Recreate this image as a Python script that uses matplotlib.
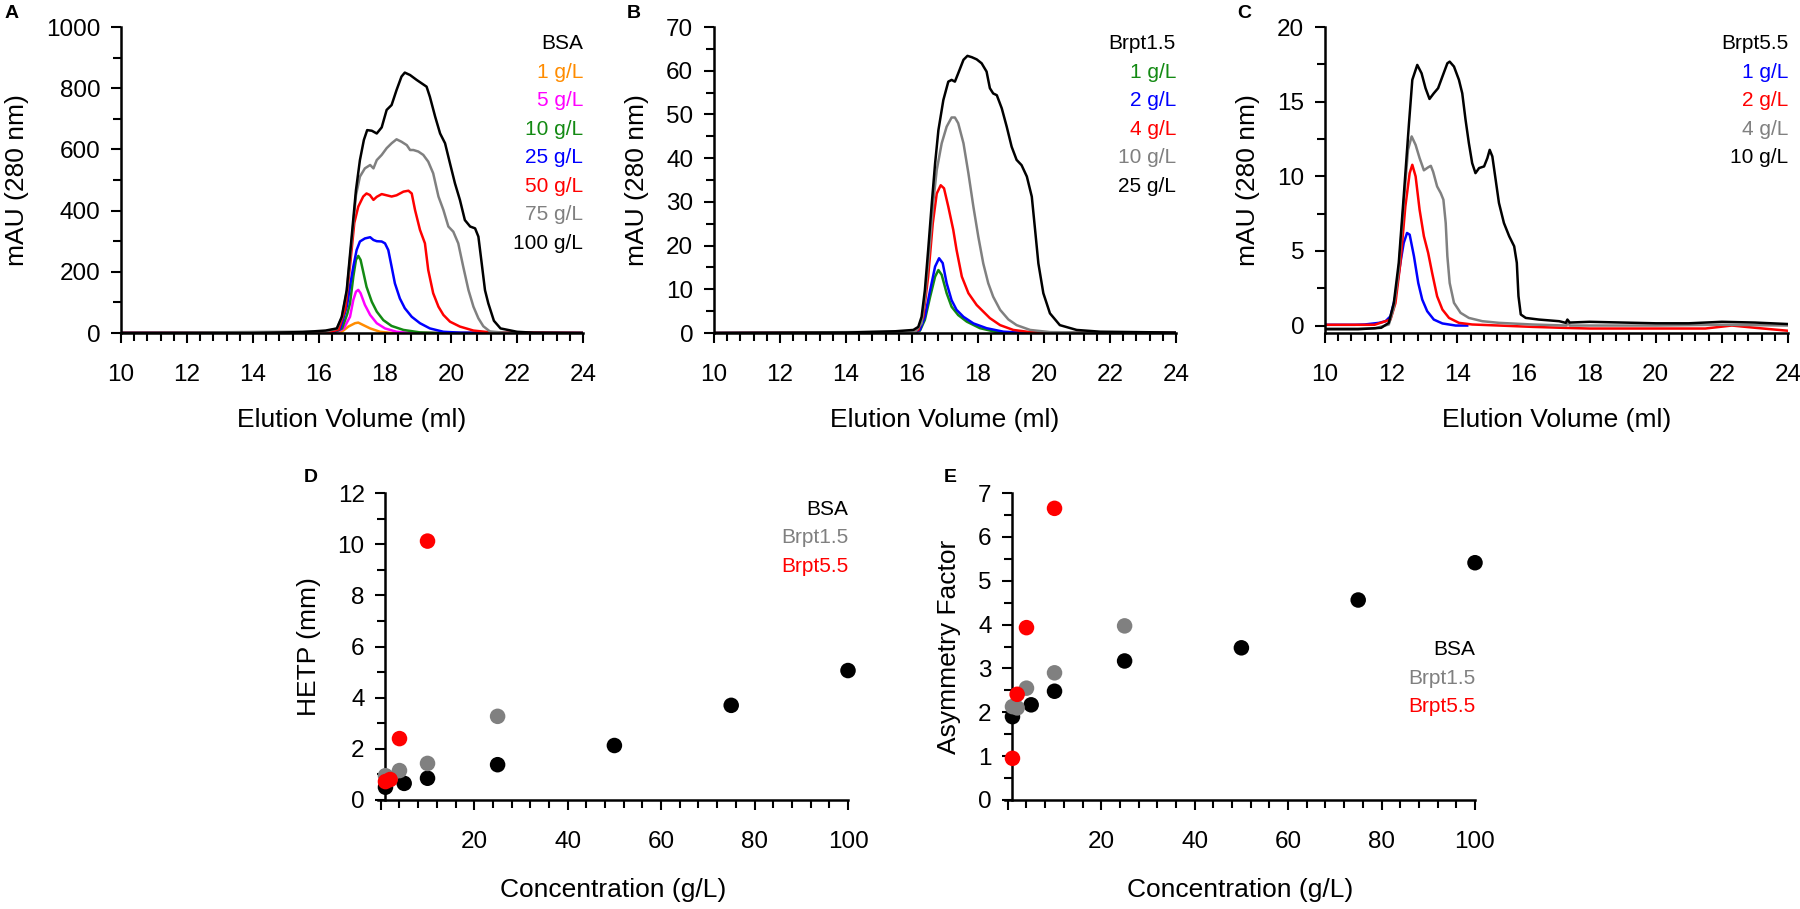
import matplotlib
matplotlib.use("Agg")
import matplotlib.pyplot as plt
from matplotlib.ticker import MultipleLocator, FuncFormatter

plt.rcParams['font.family'] = ['Liberation Sans', 'DejaVu Sans']
NARROW = ['Liberation Sans Narrow', 'Liberation Sans']

# ---------- panel A: BSA chromatograms ----------
a_labels = ['1 g/L', '5 g/L', '10 g/L', '25 g/L', '50 g/L', '75 g/L', '100 g/L']
a_orange_x = [10, 16.5, 16.69, 16.89, 17.09, 17.19, 17.34, 17.55, 17.85, 18.2, 24]
a_orange_y = [0, 1, 4, 21, 32, 34, 26, 15, 4, 0, 0]
a_mag_x = [10, 16.5, 16.75, 16.94, 17.04, 17.12, 17.19, 17.26, 17.39, 17.55, 17.75, 18.0, 18.35, 18.8, 24]
a_mag_y = [0, 1, 15, 53, 108, 135, 141, 130, 92, 59, 32, 15, 4, 0, 0]
a_green_x = [10, 16.45, 16.7, 16.85, 16.94, 17.04, 17.12, 17.19, 17.26, 17.34, 17.44, 17.6, 17.75, 17.95, 18.2, 18.56, 19.06, 19.6, 24]
a_green_y = [0, 1, 15, 60, 97, 184, 239, 252, 239, 200, 151, 102, 70, 42, 23, 10, 2, 0, 0]
a_blue_x = [10, 16.4, 16.65, 16.85, 16.95, 17.04, 17.14, 17.24, 17.39, 17.55, 17.65, 17.75, 17.9, 18.0, 18.1, 18.2, 18.3, 18.45, 18.6, 18.81, 19.06, 19.36, 19.77, 20.3, 24]
a_blue_y = [0, 2, 15, 90, 160, 217, 271, 299, 309, 313, 304, 300, 299, 293, 271, 217, 162, 113, 81, 53, 32, 15, 4, 1, 0]
a_red_x = [10, 16.3, 16.6, 16.8, 16.95, 17.07, 17.19, 17.34, 17.44, 17.54, 17.65, 17.75, 17.9, 18.05, 18.2, 18.35, 18.56, 18.71, 18.81, 18.91, 19.06, 19.21, 19.31, 19.46, 19.62, 19.77, 19.97, 20.27, 20.68, 21.2, 24]
a_red_y = [0, 2, 12, 80, 230, 360, 413, 446, 456, 451, 435, 445, 454, 450, 446, 450, 462, 465, 456, 402, 337, 293, 206, 130, 86, 59, 37, 21, 8, 2, 0]
a_gray_x = [10, 16.2, 16.54, 16.69, 16.84, 16.99, 17.12, 17.24, 17.39, 17.55, 17.65, 17.75, 17.9, 18.05, 18.2, 18.35, 18.5, 18.66, 18.76, 18.86, 19.01, 19.16, 19.31, 19.46, 19.62, 19.77, 19.92, 20.07, 20.22, 20.37, 20.53, 20.68, 20.83, 20.98, 21.18, 21.5, 22, 24]
a_gray_y = [0, 5, 14, 50, 135, 300, 450, 511, 538, 549, 538, 565, 582, 604, 620, 633, 625, 614, 598, 598, 593, 582, 560, 522, 446, 402, 348, 331, 293, 217, 140, 86, 48, 22, 5, 2, 0, 0]
a_black_x = [10, 14, 15.5, 16.2, 16.54, 16.69, 16.84, 16.99, 17.12, 17.24, 17.36, 17.46, 17.6, 17.75, 17.9, 18.05, 18.2, 18.35, 18.5, 18.6, 18.76, 18.96, 19.11, 19.26, 19.36, 19.52, 19.67, 19.82, 19.97, 20.12, 20.27, 20.42, 20.58, 20.73, 20.83, 20.93, 21.03, 21.13, 21.3, 21.5, 22.0, 22.5, 24]
a_black_y = [0, 0, 3, 8, 15, 53, 140, 315, 467, 565, 631, 663, 661, 652, 672, 729, 745, 794, 838, 851, 843, 827, 816, 805, 772, 707, 652, 620, 554, 489, 435, 369, 348, 342, 315, 228, 140, 97, 40, 15, 4, 1, 0]

# ---------- panel B: Brpt1.5 chromatograms ----------
b_labels = ['1 g/L', '2 g/L', '4 g/L', '10 g/L', '25 g/L']
b_green_x = [10, 16.1, 16.24, 16.39, 16.55, 16.7, 16.8, 16.9, 17.05, 17.2, 17.4, 17.66, 18.06, 18.57, 19.3, 24]
b_green_y = [0, 0.1, 0.5, 3.0, 8.3, 12.9, 14.4, 13.3, 9.1, 6.0, 4.1, 2.6, 1.1, 0.2, 0, 0]
b_blue_x = [10, 16.05, 16.24, 16.39, 16.55, 16.7, 16.82, 16.93, 17.05, 17.2, 17.35, 17.56, 17.86, 18.26, 18.77, 19.5, 24]
b_blue_y = [0, 0.2, 0.7, 3.7, 9.8, 15.2, 17.1, 16.0, 11.4, 7.5, 5.3, 3.7, 2.2, 1.1, 0.3, 0, 0]
b_red_x = [10, 16.0, 16.19, 16.34, 16.49, 16.63, 16.75, 16.87, 16.97, 17.1, 17.25, 17.35, 17.51, 17.71, 17.96, 18.16, 18.36, 18.67, 19.07, 19.58, 24]
b_red_y = [0, 0.2, 0.7, 3.7, 12.9, 25.1, 31.9, 33.8, 33.1, 28.9, 23.6, 19.0, 12.9, 9.1, 6.4, 4.9, 3.4, 1.8, 0.7, 0.2, 0]
b_gray_x = [10, 16.1, 16.29, 16.39, 16.55, 16.65, 16.75, 16.9, 17.05, 17.2, 17.3, 17.4, 17.56, 17.71, 17.86, 18.01, 18.16, 18.31, 18.46, 18.67, 18.92, 19.17, 19.58, 20.18, 24]
b_gray_y = [0, 0.3, 2.2, 8.0, 21, 30.4, 37.3, 43.4, 47.2, 49.3, 49.3, 48.0, 43.4, 36.5, 28.9, 22.0, 15.9, 11.4, 8.3, 5.3, 3.1, 1.8, 0.7, 0.2, 0]
b_black_x = [10, 14, 15.5, 16.04, 16.19, 16.29, 16.39, 16.49, 16.6, 16.7, 16.8, 16.95, 17.1, 17.2, 17.3, 17.4, 17.56, 17.68, 17.81, 17.96, 18.11, 18.26, 18.36, 18.46, 18.57, 18.72, 18.87, 19.02, 19.17, 19.32, 19.48, 19.63, 19.73, 19.83, 19.98, 20.18, 20.48, 20.99, 21.7, 24]
b_black_y = [0, 0.1, 0.4, 0.7, 1.4, 3.7, 9.8, 19.0, 29.7, 38.8, 46.4, 53.3, 57.5, 57.9, 57.5, 59.4, 62.5, 63.4, 63.1, 62.6, 61.7, 59.8, 56.0, 54.8, 54.4, 51.4, 47.2, 42.6, 39.6, 38.4, 35.8, 31.2, 23.6, 15.9, 9.1, 4.5, 1.8, 0.7, 0.3, 0.1]

# ---------- panel C: Brpt5.5 chromatograms ----------
c_labels = ['1 g/L', '2 g/L', '4 g/L', '10 g/L']
c_blue_x = [10, 10.9, 11.2, 11.63, 11.83, 11.98, 12.13, 12.28, 12.38, 12.48, 12.56, 12.69, 12.82, 12.94, 13.09, 13.29, 13.55, 13.95, 14.3]
c_blue_y = [0.05, 0.05, 0.07, 0.18, 0.29, 0.62, 1.96, 4.2, 5.53, 6.2, 6.09, 4.64, 2.85, 1.74, 0.96, 0.4, 0.14, 0, 0]
c_red_x = [10, 11.5, 11.98, 12.13, 12.28, 12.43, 12.56, 12.64, 12.74, 12.86, 12.99, 13.12, 13.24, 13.39, 13.55, 13.75, 14.05, 14.45, 15.26, 16.27, 17.28, 18, 20, 21.5, 22.3, 23, 24]
c_red_y = [0.05, 0.05, 0.4, 1.5, 4.2, 7.98, 10.21, 10.77, 9.99, 7.76, 5.98, 4.86, 3.52, 1.96, 1.07, 0.51, 0.18, 0.07, 0, -0.09, -0.16, -0.2, -0.2, -0.2, 0.0, -0.15, -0.35]
c_gray_x = [10, 11.5, 11.93, 12.08, 12.23, 12.38, 12.51, 12.62, 12.74, 12.86, 12.99, 13.12, 13.2, 13.27, 13.39, 13.5, 13.58, 13.65, 13.7, 13.77, 13.9, 14.1, 14.35, 14.76, 15.26, 16.27, 17.3, 17.35, 17.4, 18, 20, 22, 24]
c_gray_y = [-0.2, -0.2, 0.07, 1.2, 3.75, 8.2, 11.77, 12.67, 12.1, 11.22, 10.4, 10.6, 10.7, 10.3, 9.32, 8.87, 8.43, 6.87, 4.64, 2.85, 1.52, 0.85, 0.51, 0.29, 0.18, 0.07, 0.0, 0.2, 0.0, 0.0, 0.0, 0.05, 0.0]
c_black_x = [10, 11.0, 11.7, 11.93, 12.08, 12.23, 12.38, 12.54, 12.64, 12.79, 12.92, 13.04, 13.16, 13.29, 13.42, 13.55, 13.7, 13.77, 13.9, 14.05, 14.15, 14.25, 14.35, 14.45, 14.55, 14.66, 14.81, 14.91, 14.98, 15.06, 15.16, 15.26, 15.41, 15.57, 15.72, 15.8, 15.85, 15.92, 16.07, 16.47, 17.08, 17.28, 17.33, 17.4, 18, 20, 21, 22, 23, 24]
c_black_y = [-0.25, -0.25, -0.15, 0.18, 1.5, 4.2, 8.65, 13.56, 16.46, 17.46, 16.9, 15.9, 15.18, 15.56, 15.9, 16.68, 17.57, 17.68, 17.35, 16.46, 15.56, 13.78, 12.22, 10.88, 10.21, 10.55, 10.66, 11.22, 11.77, 11.33, 9.77, 8.21, 6.87, 5.98, 5.31, 4.2, 1.97, 0.74, 0.51, 0.4, 0.29, 0.18, 0.4, 0.2, 0.25, 0.15, 0.15, 0.25, 0.2, 0.1]

# ---------- panels D and E: HETP and asymmetry ----------
series_names = ['BSA', 'Brpt1.5', 'Brpt5.5']
bsa_conc = [1, 5, 10, 25, 50, 75, 100]
brpt15_conc = [1, 2, 4, 10, 25]
brpt55_conc = [1, 2, 4, 10]
bsa_hetp = [0.5, 0.65, 0.85, 1.38, 2.13, 3.7, 5.06]
brpt15_hetp = [0.95, 0.85, 1.15, 1.43, 3.27]
brpt55_hetp = [0.72, 0.8, 2.4, 10.12]
bsa_asym = [1.9, 2.17, 2.48, 3.17, 3.47, 4.56, 5.41]
brpt15_asym = [2.13, 2.1, 2.55, 2.9, 3.97]
brpt55_asym = [0.95, 2.41, 3.93, 6.65]

ORANGE, MAGENTA, GREEN, BLUE, RED, GRAY = '#FF8C00', '#FF00FF', '#138a13', '#0000FF', '#FF0000', '#808080'

W, H = 1800, 909
fig = plt.figure(figsize=(W / 100, H / 100), dpi=100)


def px_axes(x0, x1, ytop, ybot):
    return fig.add_axes([x0 / W, 1 - ybot / H, (x1 - x0) / W, (ybot - ytop) / H])


def style(ax, xmaj, xmin, ymaj, ymin):
    for s in ['top', 'right']:
        ax.spines[s].set_visible(False)
    for s in ['left', 'bottom']:
        ax.spines[s].set_linewidth(1.8)
    ax.xaxis.set_major_locator(MultipleLocator(xmaj))
    ax.xaxis.set_minor_locator(MultipleLocator(xmin))
    ax.yaxis.set_major_locator(MultipleLocator(ymaj))
    ax.yaxis.set_minor_locator(MultipleLocator(ymin))
    ax.tick_params(which='both', direction='out', width=1.5, labelsize=17.5)
    ax.tick_params(which='major', length=7)
    ax.tick_params(which='minor', length=6)
    ax.tick_params(axis='x', pad=15)
    ax.tick_params(axis='y', pad=8)


def legend_text(ax, title, labels, colors, y0, step, family=None):
    ax.text(1.0, y0, title, transform=ax.transAxes, ha='right', va='center',
            fontsize=15, color='black', family=family)
    for i, (lab, col) in enumerate(zip(labels, colors)):
        ax.text(1.0, y0 - step * (i + 1), lab, transform=ax.transAxes, ha='right',
                va='center', fontsize=15, color=col, family=family)


lw = 1.8
# A
axA = px_axes(121, 583, 27, 333)
axA.plot(a_orange_x, a_orange_y, color=ORANGE, lw=lw)
axA.plot(a_mag_x, a_mag_y, color=MAGENTA, lw=lw)
axA.plot(a_green_x, a_green_y, color=GREEN, lw=lw)
axA.plot(a_blue_x, a_blue_y, color=BLUE, lw=lw)
axA.plot(a_red_x, a_red_y, color=RED, lw=lw)
axA.plot(a_gray_x, a_gray_y, color=GRAY, lw=lw)
axA.plot(a_black_x, a_black_y, color='black', lw=lw)
axA.set_xlim(10, 24)
axA.set_ylim(0, 1000)
style(axA, 2, 0.4, 200, 100)
legend_text(axA, 'BSA', a_labels, [ORANGE, MAGENTA, GREEN, BLUE, RED, GRAY, 'black'], 0.946, 0.0933)

# B
axB = px_axes(714, 1176, 27, 333)
axB.plot(b_green_x, b_green_y, color=GREEN, lw=lw)
axB.plot(b_blue_x, b_blue_y, color=BLUE, lw=lw)
axB.plot(b_red_x, b_red_y, color=RED, lw=lw)
axB.plot(b_gray_x, b_gray_y, color=GRAY, lw=lw)
axB.plot(b_black_x, b_black_y, color='black', lw=lw)
axB.set_xlim(10, 24)
axB.set_ylim(0, 70)
style(axB, 2, 0.4, 10, 5)
legend_text(axB, 'Brpt1.5', b_labels, [GREEN, BLUE, RED, GRAY, 'black'], 0.946, 0.0933)

# C
axC = px_axes(1325, 1788, 27, 333)
axC.plot(c_blue_x, c_blue_y, color=BLUE, lw=lw)
axC.plot(c_red_x, c_red_y, color=RED, lw=lw)
axC.plot(c_gray_x, c_gray_y, color=GRAY, lw=lw)
axC.plot(c_black_x, c_black_y, color='black', lw=lw)
axC.set_xlim(10, 24)
axC.set_ylim(-0.5, 20)
style(axC, 2, 0.4, 5, 2.5)
legend_text(axC, 'Brpt5.5', c_labels, [BLUE, RED, GRAY, 'black'], 0.946, 0.0933)

for ax in (axA, axB, axC):
    ax.set_xlabel('Elution Volume (ml)', fontsize=19, labelpad=16)
    ax.set_ylabel('mAU (280 nm)', fontsize=19, labelpad=12)

# D and E: the y axis sits at x = 1, the x axis starts a little left of it
hide_zero = FuncFormatter(lambda v, p: '' if abs(v) < 1e-9 else '%g' % v)
axD = px_axes(378, 848, 493, 800)
axE = px_axes(1005, 1475, 493, 800)
for ax, vals, ylim, ymaj, ymin, ylab in [
        (axD, (bsa_hetp, brpt15_hetp, brpt55_hetp), 12, 2, 1, 'HETP (mm)'),
        (axE, (bsa_asym, brpt15_asym, brpt55_asym), 7, 1, 0.5, 'Asymmetry Factor')]:
    ax.scatter(bsa_conc, vals[0], s=125, color='black', edgecolors='none', clip_on=False, zorder=3)
    ax.scatter(brpt15_conc, vals[1], s=125, color=GRAY, edgecolors='none', clip_on=False, zorder=4)
    ax.scatter(brpt55_conc, vals[2], s=125, color=RED, edgecolors='none', clip_on=False, zorder=5)
    ax.set_xlim(-0.6, 100)
    ax.set_ylim(0, ylim)
    style(ax, 20, 4, ymaj, ymin)
    ax.spines['left'].set_position(('data', 1.0))
    ax.xaxis.set_major_formatter(hide_zero)
    for lab in ax.get_xticklabels() + ax.get_yticklabels():
        lab.set_family(NARROW)
    ax.set_xlabel('Concentration (g/L)', fontsize=19, labelpad=18, family=NARROW)
    ax.set_ylabel(ylab, fontsize=19, labelpad=12)

legend_text(axD, 'BSA', series_names[1:], [GRAY, RED], 0.946, 0.0925, family=NARROW)
legend_text(axE, 'BSA', series_names[1:], [GRAY, RED], 0.489, 0.0925, family=NARROW)

for letter, x, y in [('A', 12, 13), ('B', 634, 13), ('C', 1244, 13), ('D', 311, 478), ('E', 950, 478)]:
    fig.text(x / W, 1 - y / H, letter, fontsize=14, fontweight='bold', ha='center', va='center')

fig.savefig('out.png', dpi=100)
